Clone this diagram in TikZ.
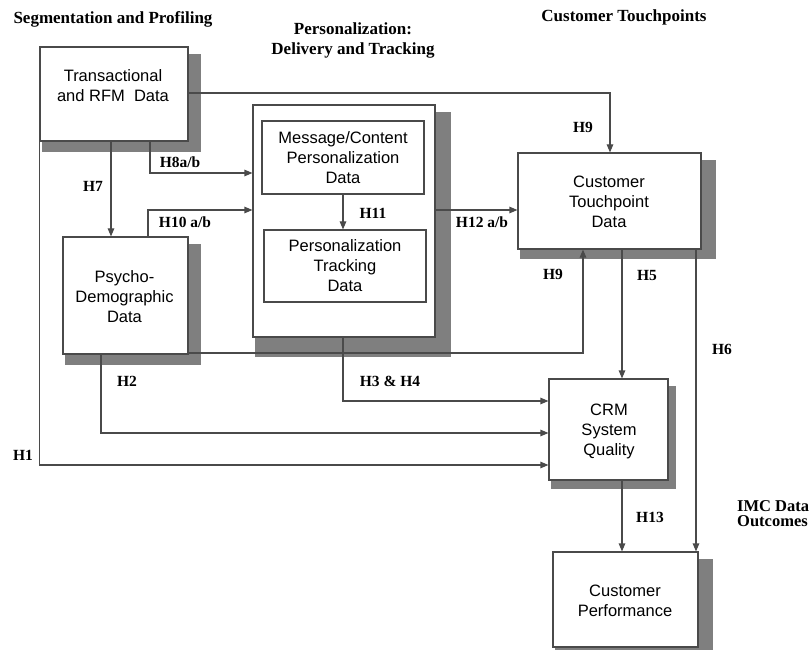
\documentclass[tikz,border=0pt]{standalone}
\usepackage{fontspec}
\setmainfont{Liberation Serif}
\newfontfamily\boxfont{Liberation Sans}
\usetikzlibrary{arrows.meta}
\pgfdeclarelayer{shadowlayer}
\pgfdeclarelayer{linelayer}
\pgfsetlayers{shadowlayer,linelayer,main}
\definecolor{linecol}{HTML}{4A4A4A}
\definecolor{shadcol}{HTML}{7F7F7F}
\tikzset{
  box/.style={draw=linecol, line width=1.1pt, fill=white, inner sep=0pt},
  boxtext/.style={font=\boxfont\fontsize{16.5}{20}\selectfont, align=center, inner sep=0pt},
  title/.style={font=\bfseries\fontsize{17}{20}\selectfont, align=center, inner sep=0pt},
  hlab/.style={font=\bfseries\fontsize{15.5}{18}\selectfont, inner sep=0pt},
  conn/.style={draw=linecol, line width=1.1pt},
  arr/.style={conn, -{Triangle[length=8pt,width=6.5pt]}},
  shad/.style={fill=shadcol}
}
\begin{document}
\begin{tikzpicture}[x=1pt,y=-1pt]
\useasboundingbox (0,0) rectangle (812,650);
% titles
\node[title] (t1) at (113,19) {Segmentation and Profiling};
\node[title] (t2) at (353,40) {Personalization:\\Delivery and Tracking};
\node[title] (t3) at (624,17) {Customer Touchpoints};
\node[title, align=left, anchor=west, font=\bfseries\fontsize{16.5}{15}\selectfont] (t4) at (737,514) {IMC Data\\Outcomes};
% boxes
\node[box, minimum width=148pt, minimum height=94pt] (trans) at (114,94) {};
\node[boxtext] (transtext) at (113,86) {Transactional\\and RFM\ \ Data};
\node[box, minimum width=125pt, minimum height=117pt] (psy) at (125.5,295.5) {};
\node[boxtext] (psytext) at (124.5,297) {Psycho-\\Demographic\\Data};
\node[box, minimum width=182pt, minimum height=232pt] (outer) at (344,221) {};
\node[box, minimum width=162pt, minimum height=73pt] (msg) at (343,157.5) {};
\node[boxtext] (msgtext) at (343,158) {Message/Content\\Personalization\\Data};
\node[box, minimum width=162pt, minimum height=72pt] (trk) at (345,266) {};
\node[boxtext] (trktext) at (345,266) {Personalization\\Tracking\\Data};
\node[box, minimum width=183pt, minimum height=96pt] (tp) at (609.5,201) {};
\node[boxtext] (tptext) at (609,202) {Customer\\Touchpoint\\Data};
\node[box, minimum width=119pt, minimum height=101pt] (crm) at (608.5,429.5) {};
\node[boxtext] (crmtext) at (609,431) {CRM\\System\\Quality};
\node[box, minimum width=145pt, minimum height=95pt] (perf) at (625.5,599.5) {};
\node[boxtext] (perftext) at (625,601) {Customer\\Performance};
% connector inside the personalization box
\draw[arr] (343,0 |- msg.south) -- (343,0 |- trk.north);
% shadows
\begin{pgfonlayer}{shadowlayer}
\fill[shad] ([shift={(3,8)}]trans.north west) rectangle ([shift={(12,10)}]trans.south east);
\fill[shad] ([shift={(3,8)}]psy.north west) rectangle ([shift={(12,10)}]psy.south east);
\fill[shad] ([shift={(3,8)}]outer.north west) rectangle ([shift={(15,19)}]outer.south east);
\fill[shad] ([shift={(3,8)}]tp.north west) rectangle ([shift={(14,9)}]tp.south east);
\fill[shad] ([shift={(3,8)}]crm.north west) rectangle ([shift={(7,8)}]crm.south east);
\fill[shad] ([shift={(3,8)}]perf.north west) rectangle ([shift={(14,8)}]perf.south east);
\end{pgfonlayer}
% connectors
\begin{pgfonlayer}{linelayer}
\draw[arr] (trans.east |- 0,93) -| (610,0 |- tp.north);
\draw[arr] (150,0 |- trans.south) |- (outer.west |- 0,173);
\draw[arr] (111,0 |- trans.south) -- (111,0 |- psy.north);
\draw[arr] (148,0 |- psy.north) |- (outer.west |- 0,210);
\draw[arr] (outer.east |- 0,210) -- (tp.west |- 0,210);
\draw[arr] (psy.east |- 0,353) -| (583,0 |- tp.south);
\draw[arr] (622,0 |- tp.south) -- (622,0 |- crm.north);
\draw[arr] (696,0 |- tp.south) -- (696,0 |- perf.north);
\draw[arr] (343,0 |- outer.south) |- (crm.west |- 0,401);
\draw[arr] (101,0 |- psy.south) |- (crm.west |- 0,433);
\draw[arr] (trans.south west) |- (crm.west |- 0,465);
\draw[arr] (622,0 |- crm.south) -- (622,0 |- perf.north);
\end{pgfonlayer}
% labels
\node[hlab] (h9a) at (583,127) {H9};
\node[hlab] (h8) at (180,162) {H8a/b};
\node[hlab] (h7) at (93,186) {H7};
\node[hlab] (h10) at (185,222) {H10 a/b};
\node[hlab] (h11) at (373,213) {H11};
\node[hlab] (h12) at (482,222) {H12 a/b};
\node[hlab] (h9b) at (553,274) {H9};
\node[hlab] (h5) at (647,276) {H5};
\node[hlab] (h6) at (722,349) {H6};
\node[hlab] (h2) at (127,381) {H2};
\node[hlab] (h34) at (390,381) {H3 \& H4};
\node[hlab] (h1) at (23,455) {H1};
\node[hlab] (h13) at (650,517) {H13};
\end{tikzpicture}
\end{document}
